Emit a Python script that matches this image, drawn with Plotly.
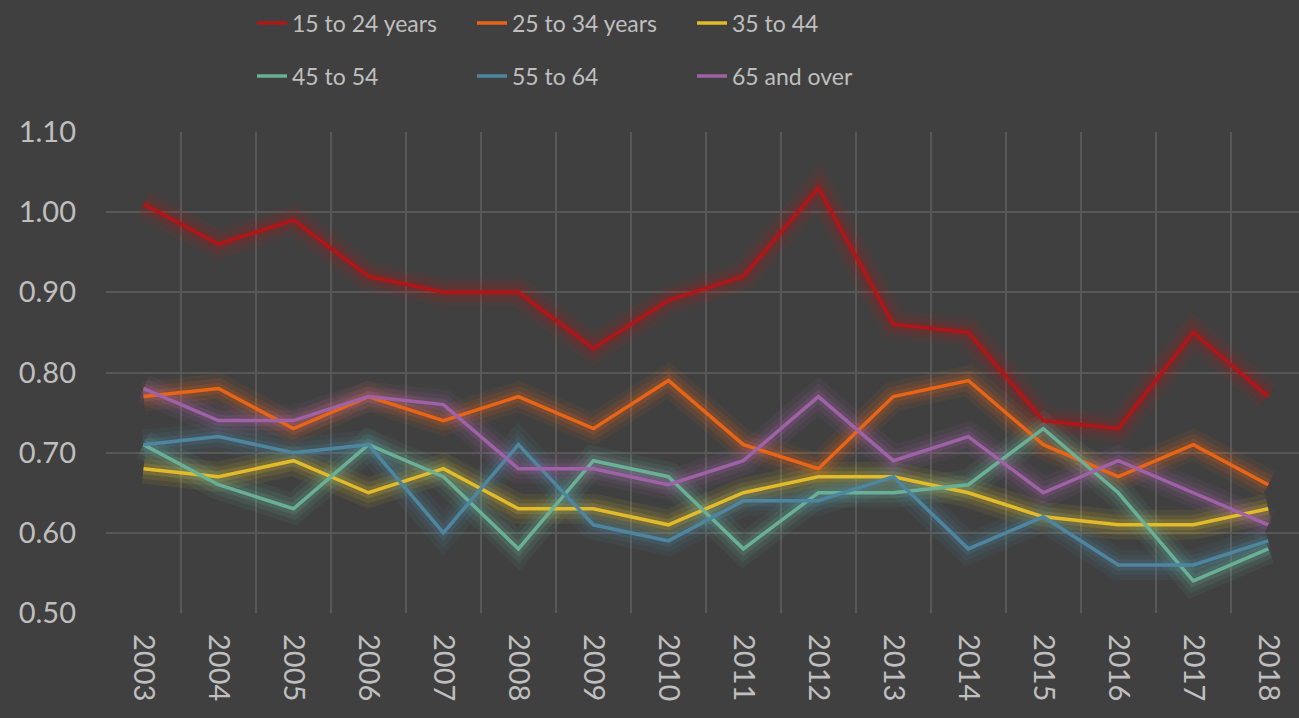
import plotly.graph_objects as go

years = [str(y) for y in range(2003, 2019)]

age_15_24 = [1.01, 0.96, 0.99, 0.92, 0.90, 0.90, 0.83, 0.89, 0.92, 1.03, 0.86, 0.85, 0.74, 0.73, 0.85, 0.77]
age_25_34 = [0.77, 0.78, 0.73, 0.77, 0.74, 0.77, 0.73, 0.79, 0.71, 0.68, 0.77, 0.79, 0.71, 0.67, 0.71, 0.66]
age_35_44 = [0.68, 0.67, 0.69, 0.65, 0.68, 0.63, 0.63, 0.61, 0.65, 0.67, 0.67, 0.65, 0.62, 0.61, 0.61, 0.63]
age_45_54 = [0.71, 0.66, 0.63, 0.71, 0.67, 0.58, 0.69, 0.67, 0.58, 0.65, 0.65, 0.66, 0.73, 0.65, 0.54, 0.58]
age_55_64 = [0.71, 0.72, 0.70, 0.71, 0.60, 0.71, 0.61, 0.59, 0.64, 0.64, 0.67, 0.58, 0.62, 0.56, 0.56, 0.59]
age_65_plus = [0.78, 0.74, 0.74, 0.77, 0.76, 0.68, 0.68, 0.66, 0.69, 0.77, 0.69, 0.72, 0.65, 0.69, 0.65, 0.61]

# (name, values, colour, legend row)
series = [
    ("15 to 24 years", age_15_24, "#B01617", "legend"),
    ("25 to 34 years", age_25_34, "#E86517", "legend"),
    ("35 to 44", age_35_44, "#E2BB2B", "legend"),
    ("45 to 54", age_45_54, "#6AB096", "legend2"),
    ("55 to 64", age_55_64, "#4E86A0", "legend2"),
    ("65 and over", age_65_plus, "#A062A6", "legend2"),
]

TEXT = "#BFBFBF"
BG = "#404040"
GRID = "#585858"
FONT = "Lato, 'Noto Sans', sans-serif"


def rgba(hex_color, a):
    h = hex_color.lstrip("#")
    r, g, b = int(h[0:2], 16), int(h[2:4], 16), int(h[4:6], 16)
    return f"rgba({r},{g},{b},{a})"


fig = go.Figure()

# soft glow underneath every line
for name, vals, color, _ in series:
    for w, a in [(30, 0.08), (20, 0.12), (11, 0.18)]:
        fig.add_trace(go.Scatter(
            x=years, y=vals, mode="lines",
            line=dict(color=rgba(color, a), width=w),
            showlegend=False, hoverinfo="skip",
        ))

for name, vals, color, leg in series:
    fig.add_trace(go.Scatter(
        x=years, y=vals, mode="lines", name=name, legend=leg,
        line=dict(color=color, width=3.5),
    ))

legend_common = dict(
    orientation="h", xref="container", yref="container",
    xanchor="left", yanchor="middle",
    entrywidth=175, entrywidthmode="pixels",
    font=dict(family=FONT, size=23, color=TEXT),
    bgcolor="rgba(0,0,0,0)", borderwidth=0,
)

fig.update_layout(
    width=1299, height=718,
    paper_bgcolor=BG, plot_bgcolor=BG,
    margin=dict(l=106, r=0, t=132, b=105),
    font=dict(family=FONT, color=TEXT, size=30),
    legend=dict(legend_common, x=252 / 1299, y=1 - 23 / 718),
    legend2=dict(legend_common, x=252 / 1299, y=1 - 76 / 718),
    xaxis=dict(
        type="category", range=[-0.5, 15.41], tickson="boundaries",
        showgrid=True, gridcolor=GRID, gridwidth=1.5,
        tickangle=90, ticks="", ticklabelstandoff=20,
        tickfont=dict(size=29, color=TEXT), zeroline=False,
    ),
    yaxis=dict(
        range=[0.5, 1.1], dtick=0.1, tickformat=".2f",
        showgrid=True, gridcolor=GRID, gridwidth=1.5,
        ticks="", ticklabelstandoff=29, zeroline=False,
        tickfont=dict(size=29, color=TEXT),
    ),
    showlegend=True,
)

fig.write_html(
    "out.html",
    config={"displayModeBar": False},
    post_script="document.body.style.margin='0';document.body.style.overflow='hidden';"
                "document.body.style.background='#404040';",
)
